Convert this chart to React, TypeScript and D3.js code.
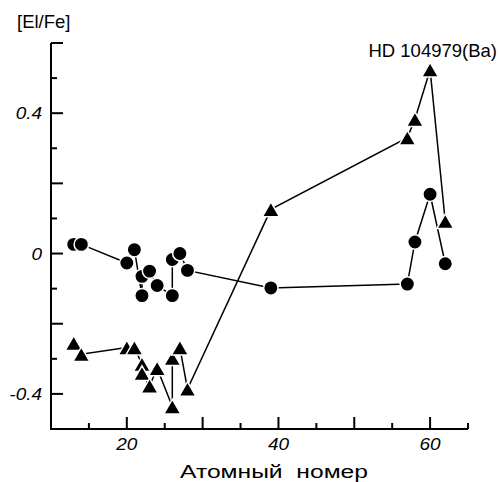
import * as d3 from "d3";

const W = 498;
const H = 482;

// atomic numbers and [El/Fe], in the order the lines join them
const circleZ = [13, 14, 20, 21, 22, 22, 23, 24, 26, 26, 27, 28, 39, 57, 58, 60, 62];
const circleVal = [0.026, 0.026, -0.027, 0.011, -0.12, -0.065, -0.05, -0.091, -0.12, -0.017, 0.0, -0.048, -0.098, -0.087, 0.033, 0.169, -0.029];

const triZ = [13, 14, 20, 21, 22, 22, 23, 24, 26, 26, 27, 28, 39, 57, 58, 60, 62];
const triVal = [-0.255, -0.287, -0.268, -0.268, -0.315, -0.341, -0.377, -0.327, -0.436, -0.298, -0.268, -0.386, 0.126, 0.33, 0.383, 0.524, 0.092];

const xMajor = [20, 30, 40, 50, 60];
const xMinor = [15, 25, 35, 45, 55, 65];
const xLabels = [20, 40, 60];
const yMajor = [-0.4, -0.2, 0, 0.2, 0.4, 0.6];
const yMinor = [-0.3, -0.1, 0.1, 0.3, 0.5];
const yLabels = ["-0.4", "0", "0.4"];

const TITLE = "HD 104979(Ba)";
const Y_TITLE = "[El/Fe]";
const X_TITLE = "Атомный\u00a0\u00a0номер";

const FONT = "'Liberation Sans', Arial, sans-serif";
const SX = 1.15; // tick labels are drawn a bit wide

const x = d3.scaleLinear().domain([10, 65]).range([51, 468]);
const y = d3.scaleLinear().domain([-0.5, 0.6]).range([429, 43]);

// triangle centred on its bounding box
const triangle = (s: number) => {
  const h = (s * Math.sqrt(3)) / 2;
  return `M0,${-h / 2}L${s / 2},${h / 2}L${-s / 2},${h / 2}Z`;
};

export default function App() {
  const line = d3
    .line<[number, number]>()
    .x((d) => x(d[0]))
    .y((d) => y(d[1]));

  const circles = circleZ.map((z, i) => [z, circleVal[i]] as [number, number]);
  const tris = triZ.map((z, i) => [z, triVal[i]] as [number, number]);

  const [x0, x1] = x.range();
  const [y0, y1] = y.range();

  return (
    <svg width={W} height={H} style={{ position: "absolute", left: 0, top: 0, background: "#fff" }}>
      <rect width={W} height={H} fill="#fff" />

      {/* lines */}
      <path d={line(circles) ?? ""} fill="none" stroke="#000" strokeWidth={1.5} />
      <path d={line(tris) ?? ""} fill="none" stroke="#000" strokeWidth={1.5} />

      {/* markers, white rim leaves a small gap to the lines */}
      {circles.map((d, i) => (
        <circle key={"c" + i} cx={x(d[0])} cy={y(d[1])} r={7.2} fill="#000" stroke="#fff" strokeWidth={1.5} />
      ))}
      {tris.map((d, i) => (
        <path
          key={"t" + i}
          d={triangle(17)}
          transform={`translate(${x(d[0])},${y(d[1])})`}
          fill="#000"
          stroke="#fff"
          strokeWidth={1.5}
          strokeLinejoin="miter"
        />
      ))}

      {/* axes */}
      <path d={`M${x0},${y1}V${y0}H${x1}`} fill="none" stroke="#000" strokeWidth={2} />
      {xMajor.map((v) => (
        <line key={"xM" + v} x1={x(v)} x2={x(v)} y1={y0} y2={y0 - 12} stroke="#000" strokeWidth={2} />
      ))}
      {xMinor.map((v) => (
        <line key={"xm" + v} x1={x(v)} x2={x(v)} y1={y0} y2={y0 - 6} stroke="#000" strokeWidth={2} />
      ))}
      {yMajor.map((v) => (
        <line key={"yM" + v} x1={x0} x2={x0 + 12} y1={y(v)} y2={y(v)} stroke="#000" strokeWidth={2} />
      ))}
      {yMinor.map((v) => (
        <line key={"ym" + v} x1={x0} x2={x0 + 6} y1={y(v)} y2={y(v)} stroke="#000" strokeWidth={2} />
      ))}

      {/* tick labels */}
      {xLabels.map((v) => (
        <g key={"xl" + v} transform={`translate(${x(v)},${y0 + 21}) scale(${SX},1)`}>
          <text textAnchor="middle" fontFamily={FONT} fontStyle="italic" fontSize={16.5}>
            {v}
          </text>
        </g>
      ))}
      {yLabels.map((v) => (
        <g key={"yl" + v} transform={`translate(${x0 - 9},${y(+v) + 6}) scale(${SX},1)`}>
          <text textAnchor="end" fontFamily={FONT} fontStyle="italic" fontSize={16.5}>
            {v}
          </text>
        </g>
      ))}

      {/* titles */}
      <text x={17} y={28} fontFamily={FONT} fontSize={18.5}>
        {Y_TITLE}
      </text>
      <text x={497} y={57} textAnchor="end" fontFamily={FONT} fontSize={18.5}>
        {TITLE}
      </text>
      <text x={180} y={478} fontFamily={FONT} fontSize={18} textLength={188} lengthAdjust="spacingAndGlyphs">
        {X_TITLE}
      </text>
    </svg>
  );
}
